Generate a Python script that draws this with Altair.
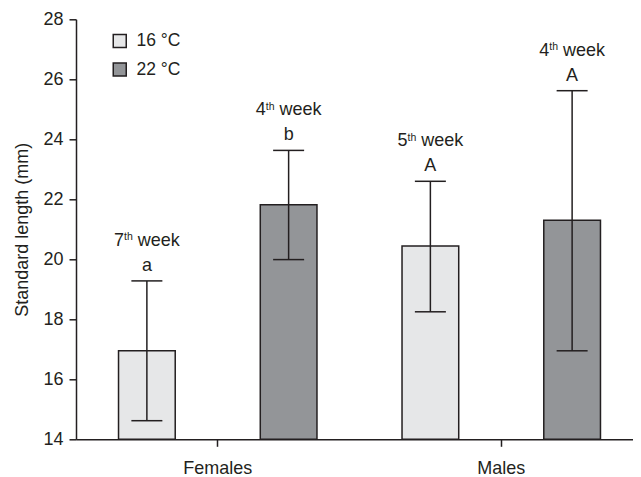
import altair as alt
import pandas as pd

# ---- data ----
groups = ["Females", "Females", "Males", "Males"]
temps = ["16 °C", "22 °C", "16 °C", "22 °C"]
means = [16.95, 21.82, 20.44, 21.30]
lower = [14.62, 19.99, 18.25, 16.95]
upper = [19.28, 23.63, 22.60, 25.62]
weeks = ["7", "4", "5", "4"]
letters = ["a", "b", "A", "A"]
y_ticks = [14, 16, 18, 20, 22, 24, 26, 28]
temp_domain = ["16 °C", "22 °C"]
temp_colors = ["#e6e7e8", "#939598"]

df = pd.DataFrame({
    "group": groups, "temp": temps, "mean": means,
    "lower": lower, "upper": upper, "week": weeks, "letter": letters,
})
df["th"] = "th"
df["wk"] = "week"

INK = "#231f20"
FONT = "Liberation Sans"
FS = 18

x_enc = alt.X("group:N", title=None,
              scale=alt.Scale(paddingInner=0, paddingOuter=0, range=[0, 567]),
              axis=alt.Axis(labelAngle=0, tickSize=7, labelPadding=13))
xo_enc = alt.XOffset("temp:N", scale=alt.Scale(domain=temp_domain, paddingInner=0.6, paddingOuter=0.3))
y_scale = alt.Scale(domain=[14, 28], nice=False, zero=False)

bars = alt.Chart(df).mark_bar(stroke=INK, strokeWidth=1.5, opacity=1).encode(
    x=x_enc,
    xOffset=xo_enc,
    y=alt.Y("mean:Q", scale=y_scale,
            axis=alt.Axis(values=y_ticks, tickSize=7, labelPadding=6,
                          title="Standard length (mm)", titlePadding=11)),
    y2=alt.datum(14),
    color=alt.Color("temp:N", scale=alt.Scale(domain=temp_domain, range=temp_colors),
                    legend=alt.Legend(title=None, orient="none", legendX=35, legendY=13,
                                      symbolType="square", symbolSize=169,
                                      symbolStrokeColor=INK, symbolStrokeWidth=1.5,
                                      symbolOpacity=1, labelOffset=8, rowPadding=8.5,
                                      padding=0, labelFontSize=17.5, labelFont=FONT,
                                      labelColor=INK)),
)

rules = alt.Chart(df).mark_rule(color=INK, strokeWidth=1.5).encode(
    x=x_enc, xOffset=xo_enc,
    y=alt.Y("lower:Q", scale=y_scale), y2="upper:Q",
)

caps_hi = alt.Chart(df).mark_tick(color=INK, thickness=1.5, size=31, opacity=1).encode(
    x=x_enc, xOffset=xo_enc, y=alt.Y("upper:Q", scale=y_scale),
)
caps_lo = alt.Chart(df).mark_tick(color=INK, thickness=1.5, size=31, opacity=1).encode(
    x=x_enc, xOffset=xo_enc, y=alt.Y("lower:Q", scale=y_scale),
)

def txt(field, size, align, dx, dy):
    return alt.Chart(df).mark_text(font=FONT, fontSize=size, color=INK, align=align,
                                   baseline="alphabetic", dx=dx, dy=dy).encode(
        x=x_enc, xOffset=xo_enc, y=alt.Y("upper:Q", scale=y_scale), text=f"{field}:N")

num_t = txt("week", FS, "left", -32.9, -35)
th_t = txt("th", 10.5, "left", -22.9, -40.5)
wk_t = txt("wk", FS, "right", 32.9, -35)
let_t = txt("letter", FS, "center", 0, -10)

chart = alt.layer(bars, rules, caps_hi, caps_lo, num_t, th_t, wk_t, let_t).properties(
    width=557, height=420,
    autosize=alt.AutoSizeParams(type="none"),
    padding={"left": 68, "top": 11.3, "right": 0, "bottom": 40},
).configure_view(stroke=None).configure_axis(
    domainColor=INK, domainWidth=1.5, tickColor=INK, tickWidth=1.5,
    labelColor=INK, labelFont=FONT, labelFontSize=FS,
    titleColor=INK, titleFont=FONT, titleFontSize=FS, titleFontWeight="normal",
    grid=False,
)

chart.save("out.html", embed_options={"renderer": "svg", "actions": False})
